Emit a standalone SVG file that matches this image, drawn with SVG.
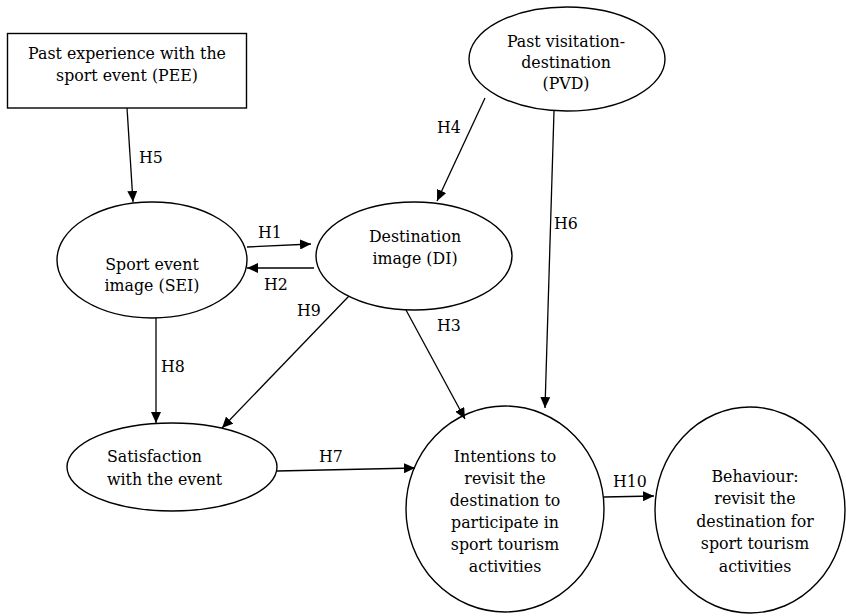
<svg xmlns="http://www.w3.org/2000/svg" width="846" height="616" viewBox="0 0 846 616">
<defs>
<marker id="ah" markerUnits="userSpaceOnUse" markerWidth="12" markerHeight="10" refX="11" refY="5" orient="auto">
<path d="M0,0 L11,5 L0,10 Z" fill="#000"/>
</marker>
<style>
.shape{fill:#fff;stroke:#000;stroke-width:1.4}
.t{font-family:"DejaVu Serif",serif;font-size:15.8px;fill:#000}
.c{text-anchor:middle}
.ln{stroke:#000;stroke-width:1.3;fill:none;marker-end:url(#ah)}
</style>
</defs>
<rect width="846" height="616" fill="#fff"/>
<g id="PEE">
<rect class="shape" x="7.5" y="33.5" width="239" height="74.5"/>
<text class="t c" x="127" y="59">Past experience with the</text>
<text class="t c" x="127" y="81">sport event (PEE)</text>
</g>
<g id="PVD">
<ellipse class="shape" cx="567" cy="59" rx="98" ry="52"/>
<text class="t c" x="566" y="47">Past visitation-</text>
<text class="t c" x="566" y="68">destination</text>
<text class="t c" x="566" y="89">(PVD)</text>
</g>
<g id="SEI">
<ellipse class="shape" cx="152" cy="260" rx="95" ry="58"/>
<text class="t c" x="152" y="270">Sport event</text>
<text class="t c" x="152" y="291">image (SEI)</text>
</g>
<g id="DI">
<ellipse class="shape" cx="414" cy="256" rx="98" ry="54"/>
<text class="t c" x="415" y="242">Destination</text>
<text class="t c" x="415" y="264">image (DI)</text>
</g>
<g id="SAT">
<ellipse class="shape" cx="172" cy="467" rx="105" ry="44"/>
<text class="t" x="107" y="462">Satisfaction</text>
<text class="t" x="107" y="485">with the event</text>
</g>
<g id="INT">
<ellipse class="shape" cx="505" cy="509" rx="99" ry="103"/>
<text class="t c" x="505" y="462">Intentions to</text>
<text class="t c" x="505" y="484">revisit the</text>
<text class="t c" x="505" y="506">destination to</text>
<text class="t c" x="505" y="528">participate in</text>
<text class="t c" x="505" y="550">sport tourism</text>
<text class="t c" x="505" y="572">activities</text>
</g>
<g id="BEH">
<ellipse class="shape" cx="750" cy="510" rx="95" ry="103"/>
<text class="t c" x="755" y="482">Behaviour:</text>
<text class="t c" x="755" y="504">revisit the</text>
<text class="t c" x="755" y="527">destination for</text>
<text class="t c" x="755" y="549">sport tourism</text>
<text class="t c" x="755" y="572">activities</text>
</g>
<g id="connectors">
<line class="ln" x1="127" y1="108" x2="133" y2="202"/>
<line class="ln" x1="247" y1="247" x2="311" y2="244"/>
<line class="ln" x1="314" y1="268" x2="247" y2="268"/>
<line class="ln" x1="485" y1="98" x2="437" y2="201"/>
<line class="ln" x1="554" y1="111" x2="545" y2="408"/>
<line class="ln" x1="406" y1="310" x2="465" y2="419"/>
<line class="ln" x1="349" y1="296" x2="222" y2="428"/>
<line class="ln" x1="156" y1="318" x2="156" y2="423"/>
<line class="ln" x1="277" y1="471" x2="415" y2="468"/>
<line class="ln" x1="604" y1="497" x2="654" y2="496"/>
<text class="t" x="139" y="163">H5</text>
<text class="t" x="258" y="238">H1</text>
<text class="t" x="264" y="290">H2</text>
<text class="t" x="437" y="133">H4</text>
<text class="t" x="554" y="229">H6</text>
<text class="t" x="297" y="316">H9</text>
<text class="t" x="437" y="331">H3</text>
<text class="t" x="161" y="372">H8</text>
<text class="t" x="319" y="462">H7</text>
<text class="t" x="613" y="487">H10</text>
</g>
</svg>
